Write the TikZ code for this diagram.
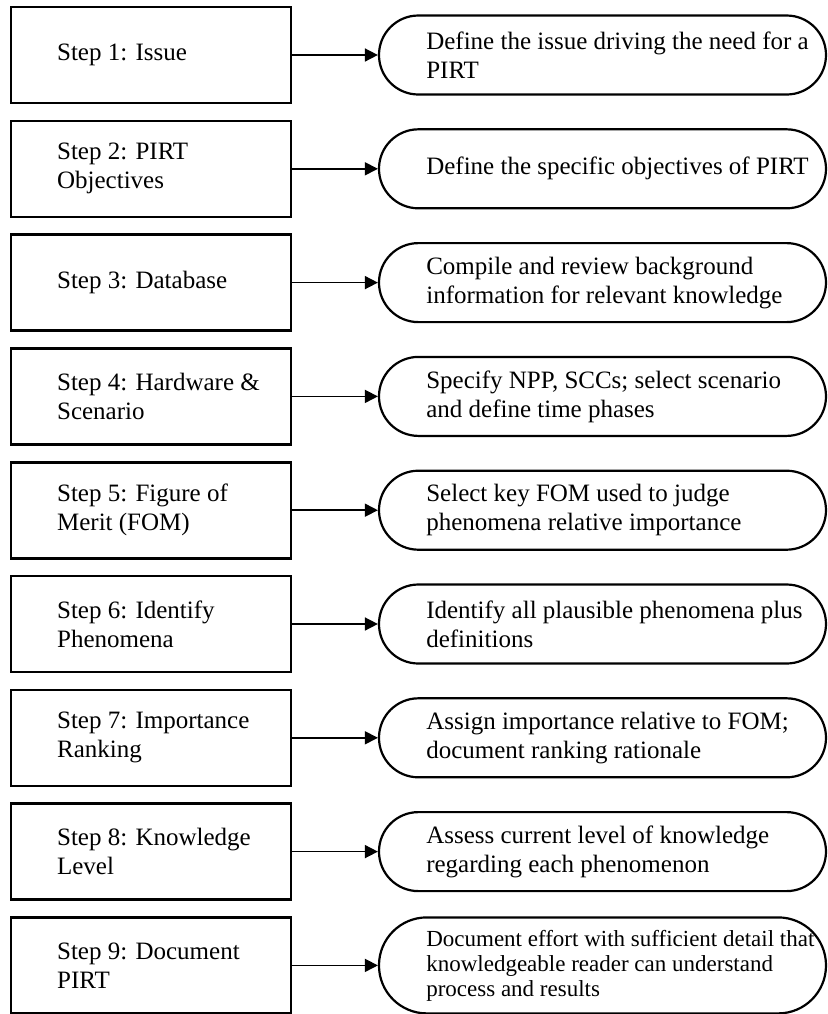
\documentclass[tikz,border=0pt]{standalone}
\usepackage{fontspec}
\setmainfont{Liberation Serif}
\usetikzlibrary{arrows.meta,positioning}

\begin{document}
\begin{tikzpicture}[x=0.5pt,y=-0.5pt]
\tikzstyle{stepbox}=[draw,line width=1.3pt,minimum width=140pt,minimum height=48pt,inner sep=0pt]
\tikzstyle{task}=[draw,line width=1.1pt,rounded corners=19.7pt,minimum width=223.5pt,minimum height=39.5pt,inner sep=0pt]
\tikzstyle{boxtext}=[align=left,inner sep=0pt,font=\fontsize{12.5}{14.5}\selectfont]
\tikzstyle{tasktext}=[boxtext]
\tikzstyle{link}=[line width=0.8pt,-{Triangle[length=6.5pt,width=6.5pt]}]
\useasboundingbox (0,0) rectangle (828,1014);
% left column
\node[stepbox] (s1) at (151,55) {};
\node[stepbox] (s2) at (151,168.8) {};
\node[stepbox] (s3) at (151,282.6) {};
\node[stepbox] (s4) at (151,396.4) {};
\node[stepbox] (s5) at (151,510.2) {};
\node[stepbox] (s6) at (151,624) {};
\node[stepbox] (s7) at (151,737.8) {};
\node[stepbox] (s8) at (151,851.6) {};
\node[stepbox] (s9) at (151,965.4) {};
\node[boxtext,right=23.5pt of s1.west] (s1t) {Step 1: Issue};
\node[boxtext,right=23.5pt of s2.west] (s2t) {Step 2: PIRT\\Objectives};
\node[boxtext,right=23.5pt of s3.west] (s3t) {Step 3: Database};
\node[boxtext,right=23.5pt of s4.west] (s4t) {Step 4: Hardware \&\\Scenario};
\node[boxtext,right=23.5pt of s5.west] (s5t) {Step 5: Figure of\\Merit (FOM)};
\node[boxtext,right=23.5pt of s6.west] (s6t) {Step 6: Identify\\Phenomena};
\node[boxtext,right=23.5pt of s7.west] (s7t) {Step 7: Importance\\Ranking};
\node[boxtext,right=23.5pt of s8.west] (s8t) {Step 8: Knowledge\\Level};
\node[boxtext,right=23.5pt of s9.west] (s9t) {Step 9: Document\\PIRT};
% right column
\node[task] (t1) at (602.5,55) {};
\node[task] (t2) at (602.5,168.8) {};
\node[task] (t3) at (602.5,282.6) {};
\node[task] (t4) at (602.5,396.4) {};
\node[task] (t5) at (602.5,510.2) {};
\node[task] (t6) at (602.5,624) {};
\node[task] (t7) at (602.5,737.8) {};
\node[task] (t8) at (602.5,851.6) {};
\node[task,minimum height=48pt,rounded corners=23.9pt] (t9) at (602.5,965.4) {};
\node[tasktext,right=24pt of t1.west] (t1t) {Define the issue driving the need for a\\PIRT};
\node[tasktext,right=24pt of t2.west] (t2t) {Define the specific objectives of PIRT};
\node[tasktext,right=24pt of t3.west] (t3t) {Compile and review background\\information for relevant knowledge};
\node[tasktext,right=24pt of t4.west] (t4t) {Specify NPP, SCCs; select scenario\\and define time phases};
\node[tasktext,right=24pt of t5.west] (t5t) {Select key FOM used to judge\\phenomena relative importance};
\node[tasktext,right=24pt of t6.west] (t6t) {Identify all plausible phenomena plus\\definitions};
\node[tasktext,right=24pt of t7.west] (t7t) {Assign importance relative to FOM;\\document ranking rationale};
\node[tasktext,right=24pt of t8.west] (t8t) {Assess current level of knowledge\\regarding each phenomenon};
\node[tasktext,right=24pt of t9.west,font=\fontsize{11.5}{12.5}\selectfont] (t9t) {Document effort with sufficient detail that\\knowledgeable reader can understand\\process and results};
% arrows
\draw[link] (s1.east) -- (t1.west);
\draw[link] (s2.east) -- (t2.west);
\draw[link] (s3.east) -- (t3.west);
\draw[link] (s4.east) -- (t4.west);
\draw[link] (s5.east) -- (t5.west);
\draw[link] (s6.east) -- (t6.west);
\draw[link] (s7.east) -- (t7.west);
\draw[link] (s8.east) -- (t8.west);
\draw[link] (s9.east) -- (t9.west);
\end{tikzpicture}
\end{document}
